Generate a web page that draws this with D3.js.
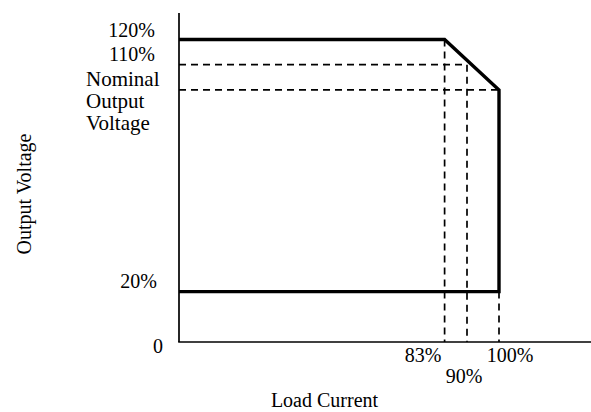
<!DOCTYPE html>
<html>
<head>
<meta charset="utf-8">
<script src="https://cdn.jsdelivr.net/npm/d3@7"></script>
<style>
  html, body { margin: 0; padding: 0; background: #fff; }
  svg { display: block; }
  text { font-family: "Liberation Serif", "Times New Roman", serif; font-size: 20px; fill: #000; }
</style>
</head>
<body>
<svg id="chart" width="591" height="412"></svg>
<script>
// Characteristic curve (load current %, output voltage %)
const loadCurrent = [0, 83, 100, 100, 0];
const outputVoltage = [120, 120, 100, 20, 20];

// Dashed reference lines: [x1, y1, x2, y2] in data units
const refX1 = [0, 0, 83, 90, 100];
const refY1 = [110, 100, 120, 110, 20];
const refX2 = [90, 100, 83, 90, 100];
const refY2 = [110, 100, 0, 0, 0];

// Tick labels
const xTickValues = [83, 90, 100];
const xTickLabels = ["83%", "90%", "100%"];
const yTickValues = [120, 110, 20, 0];
const yTickLabels = ["120%", "110%", "20%", "0"];
const nominalLabel = ["Nominal", "Output", "Voltage"];
const nominalValue = 100;

const xTitle = "Load Current";
const yTitle = "Output Voltage";

const svg = d3.select("#chart");
const x = d3.scaleLinear().domain([0, 100]).range([179, 499]);
const y = d3.scaleLinear().domain([0, 120]).range([342, 39.5]);

// Axes lines
svg.append("line")
  .attr("x1", x(0)).attr("x2", x(0))
  .attr("y1", y(0)).attr("y2", y(130.5))
  .attr("stroke", "#000").attr("stroke-width", 1.7);
svg.append("line")
  .attr("x1", x(0) - 0.8).attr("x2", 591)
  .attr("y1", y(0)).attr("y2", y(0))
  .attr("stroke", "#000").attr("stroke-width", 1.7);

// Dashed reference lines
svg.append("g").selectAll("line")
  .data(refX1.map((d, i) => i))
  .join("line")
  .attr("x1", i => x(refX1[i]))
  .attr("y1", i => y(refY1[i]))
  .attr("x2", i => x(refX2[i]))
  .attr("y2", i => y(refY2[i]))
  .attr("stroke", "#000")
  .attr("stroke-width", 1.7)
  .attr("stroke-dasharray", "7,5");

// Characteristic curve
const line = d3.line().x(d => x(d[0])).y(d => y(d[1]));
svg.append("path")
  .datum(loadCurrent.map((d, i) => [d, outputVoltage[i]]))
  .attr("d", line)
  .attr("fill", "none")
  .attr("stroke", "#000")
  .attr("stroke-width", 3.4)
  .attr("stroke-linejoin", "miter");

// Y tick labels
const yOffsets = { 120: -2.5, 110: -3.5, 20: -3.5, 0: 11 };
svg.append("g").selectAll("text")
  .data(yTickValues)
  .join("text")
  .attr("x", d => d === 0 ? 163 : (d === 20 ? 157 : 155))
  .attr("y", d => y(d) + yOffsets[d])
  .attr("text-anchor", "end")
  .text((d, i) => yTickLabels[i]);

// Nominal output voltage label
svg.append("g").selectAll("text")
  .data(nominalLabel)
  .join("text")
  .attr("x", 86)
  .attr("y", (d, i) => y(nominalValue) - 4 + i * 22)
  .style("font-size", "21px")
  .text(d => d);

// X tick labels
const xLabelPos = { 83: [423, 361.5], 90: [464, 383], 100: [510, 361.5] };
svg.append("g").selectAll("text")
  .data(xTickValues)
  .join("text")
  .attr("x", d => xLabelPos[d][0])
  .attr("y", d => xLabelPos[d][1])
  .attr("text-anchor", "middle")
  .text((d, i) => xTickLabels[i]);

// Axis titles
svg.append("text")
  .attr("x", 324.5).attr("y", 407)
  .attr("text-anchor", "middle")
  .text(xTitle);
svg.append("text")
  .attr("transform", "translate(30.5,194) rotate(-90)")
  .attr("text-anchor", "middle")
  .text(yTitle);
</script>
</body>
</html>
